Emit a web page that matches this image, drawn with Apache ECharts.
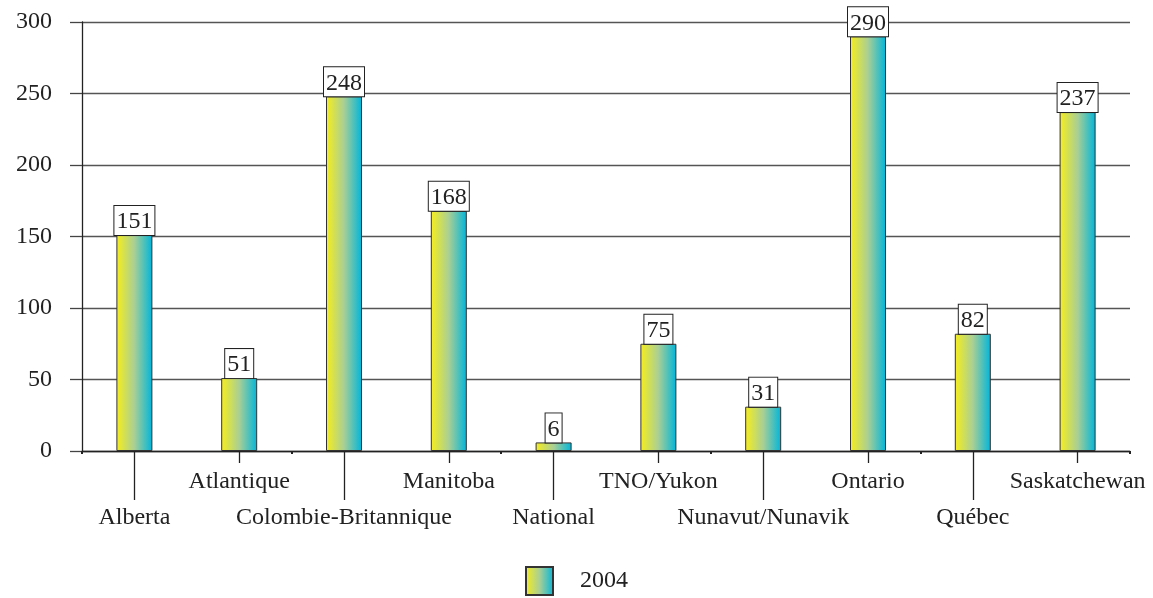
<!DOCTYPE html>
<html><head><meta charset="utf-8">
<script src="https://cdn.jsdelivr.net/npm/echarts@6/dist/echarts.min.js"></script>
<style>html,body{margin:0;padding:0;background:#fff}#c{width:1153px;height:598px}</style>
</head><body><div id="c"></div>
<script>
const categories = ['Alberta','Atlantique','Colombie-Britannique','Manitoba','National','TNO/Yukon','Nunavut/Nunavik','Ontario','Québec','Saskatchewan'];
const values2004 = [151, 51, 248, 168, 6, 75, 31, 290, 82, 237];
const seriesName = '2004';
const FONT = '"Liberation Serif", "DejaVu Serif", serif';
const FS = 24;
const grad = {type:'linear',x:0,y:0,x2:1,y2:0,colorStops:[
  {offset:0,color:'#f7ee1c'},{offset:0.5,color:'#a9cf95'},{offset:1,color:'#00b5dc'}]};
const chart = echarts.init(document.getElementById('c'));
const even = (i)=> i%2===0, odd = (i)=> i%2===1;
const baseX = {type:'category',data:categories,position:'bottom',gridIndex:0};
chart.setOption({
  animation:false,
  grid:{left:82,right:23,top:22,bottom:147},
  legend:{bottom:-3,left:'center',itemWidth:27,itemHeight:28,itemGap:10,
    textStyle:{fontFamily:FONT,fontSize:FS,color:'#222',padding:[0,0,0,22]},
    data:[{name:seriesName,icon:'rect'}]},
  xAxis:[
    Object.assign({},baseX,{axisLine:{lineStyle:{color:'#222',width:1.3}},
      axisTick:{show:true,length:3,lineStyle:{color:'#222',width:2}},axisLabel:{show:false}}),
    Object.assign({},baseX,{axisLine:{show:false},
      axisTick:{show:true,alignWithLabel:true,interval:(i)=>even(i),length:49,lineStyle:{color:'#222',width:1.3}},
      axisLabel:{interval:(i)=>even(i),margin:55,fontFamily:FONT,fontSize:FS,color:'#222'}}),
    Object.assign({},baseX,{axisLine:{show:false},
      axisTick:{show:true,alignWithLabel:true,interval:(i)=>odd(i),length:12,lineStyle:{color:'#222',width:1.3}},
      axisLabel:{interval:(i)=>odd(i),margin:19,fontFamily:FONT,fontSize:FS,color:'#222'}})
  ],
  yAxis:{type:'value',min:0,max:300,interval:50,
    axisLine:{show:true,lineStyle:{color:'#222',width:1.3}},
    axisTick:{show:true,length:12,lineStyle:{color:'#444',width:1.3}},
    axisLabel:{margin:30,fontFamily:FONT,fontSize:FS,color:'#222'},
    splitLine:{lineStyle:{color:'#555',width:1.3}}},
  series:[{name:seriesName,type:'bar',xAxisIndex:0,data:values2004,barWidth:36,
    itemStyle:{color:grad,borderColor:'#333',borderWidth:1},
    label:{show:true,position:'top',distance:0,fontFamily:FONT,fontSize:FS,color:'#222',
      backgroundColor:'#fff',borderColor:'#222',borderWidth:1,padding:[4,2,1,2],lineHeight:24}}]
});
</script></body></html>
